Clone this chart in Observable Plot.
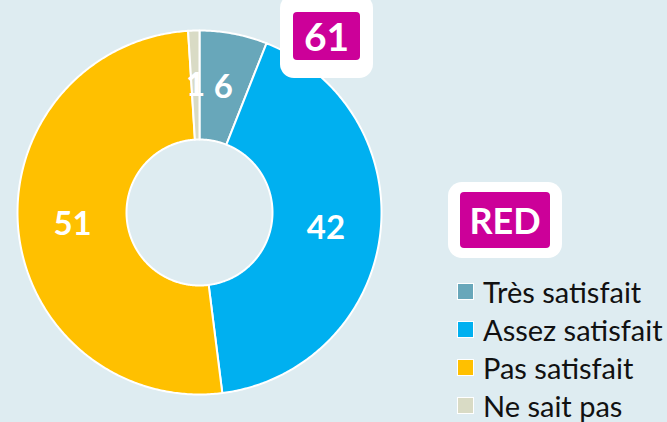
<!DOCTYPE html>
<html>
<head>
<meta charset="utf-8">
<script src="https://cdn.jsdelivr.net/npm/d3@7"></script>
<script src="https://cdn.jsdelivr.net/npm/@observablehq/plot@0.6"></script>
<style>
  html, body { margin: 0; padding: 0; background: #deecf1; }
  #wrap { position: relative; width: 667px; height: 422px; overflow: hidden; font-family: Lato, "Open Sans", sans-serif; }
  .callout { position: absolute; background: #ffffff; border-radius: 14px; box-sizing: border-box; }
  .callout .inner { position: absolute; background: #cc0099; border-radius: 4px; color: #fff; font-weight: bold; display: flex; align-items: center; justify-content: center; }
  #legend { position: absolute; left: 457px; top: 272px; }
  .item { display: flex; align-items: center; height: 38px; font-size: 29px; color: #111; white-space: nowrap; }
  .sw { width: 15px; height: 15px; border: 1.5px solid #fff; margin-right: 9px; flex: none; }
</style>
</head>
<body>
<div id="wrap"></div>
<script>
const categories = ["Très satisfait", "Assez satisfait", "Pas satisfait", "Ne sait pas"];
const values = [6, 42, 51, 1];
const colors = ["#68a7ba", "#00b0f0", "#ffc000", "#d9dbc5"];
const calloutTotal = "61";
const calloutName = "RED";

const W = 667, H = 422;
const cx = 199, cy = 212, rOuter = 182, rInner = 73;

const data = categories.map((c, i) => ({category: c, value: values[i]}));
const arcs = d3.pie().sort(null).value(d => d.value)(data);

const polyPts = [];
arcs.forEach(a => {
  const n = Math.max(4, Math.ceil((a.endAngle - a.startAngle) / 0.01));
  const pts = [];
  for (let k = 0; k <= n; k++) {
    const t = a.startAngle + (a.endAngle - a.startAngle) * k / n;
    pts.push([rOuter * Math.sin(t), -rOuter * Math.cos(t)]);
  }
  for (let k = n; k >= 0; k--) {
    const t = a.startAngle + (a.endAngle - a.startAngle) * k / n;
    pts.push([rInner * Math.sin(t), -rInner * Math.cos(t)]);
  }
  pts.push(pts[0]);
  pts.forEach(p => polyPts.push({category: a.data.category, x: p[0], y: p[1]}));
});

const labelR = (rOuter + rInner) / 2;
const labels = arcs.map(a => {
  const m = (a.startAngle + a.endAngle) / 2;
  return {category: a.data.category, value: a.data.value, x: labelR * Math.sin(m), y: -labelR * Math.cos(m)};
});

const chart = Plot.plot({
  width: W, height: H,
  margin: 0,
  style: {background: "#deecf1", overflow: "visible"},
  x: {domain: [-cx, W - cx], range: [0, W], axis: null},
  y: {domain: [-cy, H - cy], range: [0, H], axis: null},
  color: {domain: categories, range: colors},
  marks: [
    Plot.line(polyPts, {x: "x", y: "y", z: "category", fill: "category", stroke: "#ffffff", strokeWidth: 2, strokeLinejoin: "round", curve: "linear"}),
    Plot.text(labels, {x: "x", y: "y", text: d => String(d.value), fill: "#ffffff", fontSize: 33, fontWeight: "bold", fontFamily: "Lato, 'Open Sans', sans-serif", textAnchor: "middle", lineAnchor: "middle"})
  ]
});

const wrap = document.getElementById("wrap");
wrap.appendChild(chart);
chart.style.position = "absolute"; chart.style.left = "0"; chart.style.top = "0";

function callout(text, left, top, w, h, pad, fs) {
  const c = document.createElement("div");
  c.className = "callout";
  Object.assign(c.style, {left: left + "px", top: top + "px", width: w + "px", height: h + "px"});
  const i = document.createElement("div");
  i.className = "inner";
  Object.assign(i.style, {left: pad[0] + "px", top: pad[1] + "px", right: pad[0] + "px", bottom: pad[1] + "px", fontSize: fs + "px"});
  i.textContent = text;
  c.appendChild(i);
  wrap.appendChild(c);
}
callout(calloutTotal, 280, -6, 93, 84, [13, 18], 39);
callout(calloutName, 448, 182, 114, 76, [12, 10], 36);

const legend = document.createElement("div");
legend.id = "legend";
categories.forEach((c, i) => {
  const it = document.createElement("div");
  it.className = "item";
  const sw = document.createElement("div");
  sw.className = "sw"; sw.style.background = colors[i];
  const lb = document.createElement("span");
  lb.textContent = c;
  it.appendChild(sw); it.appendChild(lb);
  legend.appendChild(it);
});
wrap.appendChild(legend);
</script>
</body>
</html>
